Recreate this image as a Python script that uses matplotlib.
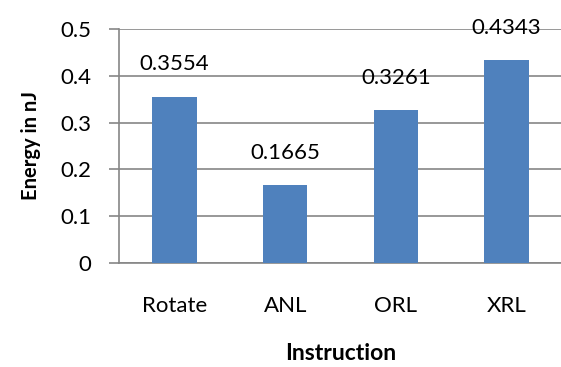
import matplotlib.pyplot as plt
import numpy as np

instructions = ["Rotate", "ANL", "ORL", "XRL"]
energy = [0.3554, 0.1665, 0.3261, 0.4343]
yticks = [0, 0.1, 0.2, 0.3, 0.4, 0.5]

plt.rcParams['font.family'] = ['Lato', 'DejaVu Sans']

fig = plt.figure(figsize=(5.61, 3.67), dpi=100)
ax = fig.add_axes([119 / 561, 1 - 263 / 367, 443 / 561, 234 / 367])

x = np.arange(len(instructions))
bars = ax.bar(x, energy, width=0.4, color='#4F81BD', zorder=3)
for b, v in zip(bars, energy):
    ax.annotate(f"{v:.4f}", (b.get_x() + b.get_width() / 2, v),
                xytext=(0, 16), textcoords='offset points',
                ha='center', va='bottom', fontsize=16, color='black')

ax.set_xlim(-0.5, len(instructions) - 0.5)
ax.set_ylim(0, 0.5)
ax.set_yticks(yticks)
ax.set_yticklabels([f"{t:g}" for t in yticks], fontsize=16)
ax.set_xticks(x)
ax.set_xticklabels(instructions, fontsize=16)
ax.tick_params(axis='x', length=0, pad=24)
ax.tick_params(axis='y', length=7, color='#868686', width=1.2, pad=13)
ax.yaxis.grid(True, color='#868686', linewidth=1.2, zorder=0)

for side in ['top', 'right']:
    ax.spines[side].set_visible(False)
for side in ['left', 'bottom']:
    ax.spines[side].set_color('#868686')
    ax.spines[side].set_linewidth(1.2)

ax.set_ylabel("Energy in nJ", fontsize=14.5, fontweight='bold', labelpad=14)
ax.set_xlabel("Instruction", fontsize=16.5, fontweight='bold', labelpad=19)

fig.savefig("out.png", dpi=100)
